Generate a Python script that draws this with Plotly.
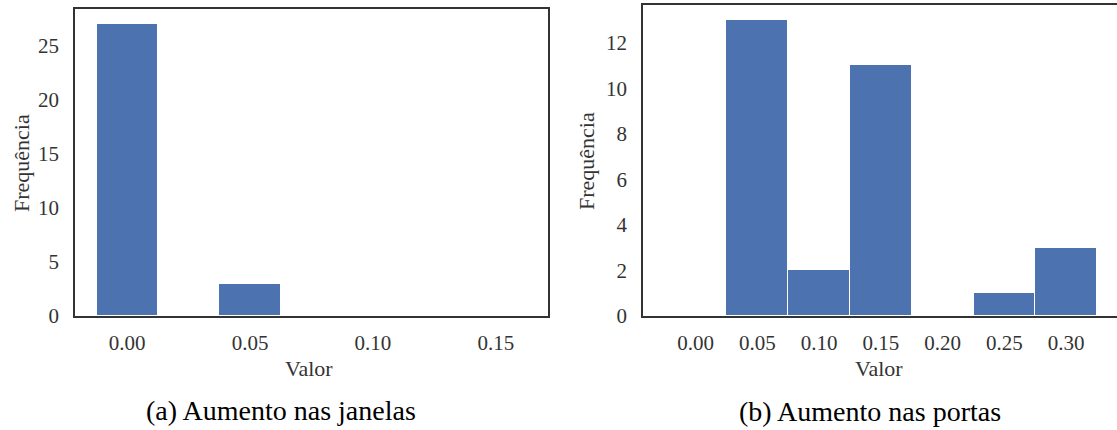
import plotly.graph_objects as go

# Data
janelas_bins = [0.0, 0.025, 0.05, 0.075, 0.10, 0.125, 0.15]
janelas_counts = [27, 0, 3, 0, 0, 0, 0]
portas_bins = [0.0, 0.05, 0.10, 0.15, 0.20, 0.25, 0.30]
portas_counts = [0, 13, 2, 11, 0, 1, 3]
janelas_ticks = [0.0, 0.05, 0.10, 0.15]
portas_ticks = [0.0, 0.05, 0.10, 0.15, 0.20, 0.25, 0.30]
janelas_yticks = [0, 5, 10, 15, 20, 25]
portas_yticks = [0, 2, 4, 6, 8, 10, 12]
captions = ["(a) Aumento nas janelas", "(b) Aumento nas portas"]

W, H = 1117, 430
BAR = "#4C72B0"
AX = "#333333"
FONT = "Liberation Serif"

def px(x):
    return x / W

def py(y):
    return 1 - y / H

fig = go.Figure()
fig.add_trace(go.Bar(x=janelas_bins, y=janelas_counts, width=0.025,
                     marker=dict(color=BAR, line=dict(color="white", width=1)),
                     xaxis="x", yaxis="y", showlegend=False))
fig.add_trace(go.Bar(x=portas_bins, y=portas_counts, width=0.05,
                     marker=dict(color=BAR, line=dict(color="white", width=1)),
                     xaxis="x2", yaxis="y2", showlegend=False))

tickfont = dict(family=FONT, size=21, color="#333333")
common_x = dict(showgrid=False, zeroline=False, showline=True, linecolor=AX, linewidth=1.5,
                automargin=False,
                ticks="outside", ticklen=7, tickcolor="rgba(0,0,0,0)", tickfont=tickfont)
common_y = dict(showgrid=False, zeroline=False, showline=True, linecolor=AX, linewidth=1.5,
                automargin=False,
                ticks="outside", ticklen=10, tickcolor="rgba(0,0,0,0)", tickfont=tickfont)

fig.update_layout(
    template="none",
    width=W, height=H, margin=dict(l=0, r=0, t=0, b=0),
    paper_bgcolor="white", plot_bgcolor="white", bargap=0,
    xaxis=dict(domain=[px(75), px(548)], range=[-0.02125, 0.17125], anchor="y",
               tickvals=janelas_ticks, ticktext=[f"{v:.2f}" for v in janelas_ticks],
               mirror=True, **common_x),
    yaxis=dict(domain=[py(316), py(9)], range=[0, 28.35], anchor="x",
               tickvals=janelas_yticks, mirror=True, **common_y),
    xaxis2=dict(domain=[px(643), 1.0], range=[-0.0425, 0.3411], anchor="y2",
                tickvals=portas_ticks, ticktext=[f"{v:.2f}" for v in portas_ticks],
                mirror=True, **common_x),
    yaxis2=dict(domain=[py(316), py(5)], range=[0, 13.65], anchor="x2",
                tickvals=portas_yticks, mirror=False, **common_y),
)

labfont = dict(family=FONT, size=22, color="#333333")
capfont = dict(family=FONT, size=28, color="black")
ann = [
    dict(text="Valor", x=px(309), y=py(368), font=labfont),
    dict(text="Valor", x=px(879), y=py(368), font=labfont),
    dict(text="Frequência", x=px(22), y=py(163), font=labfont, textangle=-90),
    dict(text="Frequência", x=px(586), y=py(161), font=labfont, textangle=-90),
    dict(text=captions[0], x=px(281), y=py(410), font=capfont),
    dict(text=captions[1], x=px(870), y=py(411), font=capfont),
]
for a in ann:
    fig.add_annotation(xref="paper", yref="paper", showarrow=False,
                       xanchor="center", yanchor="middle", **a)

fig.write_html("out.html", config={"displayModeBar": False},
               post_script="document.body.style.margin='0';document.body.style.overflow='hidden';")
